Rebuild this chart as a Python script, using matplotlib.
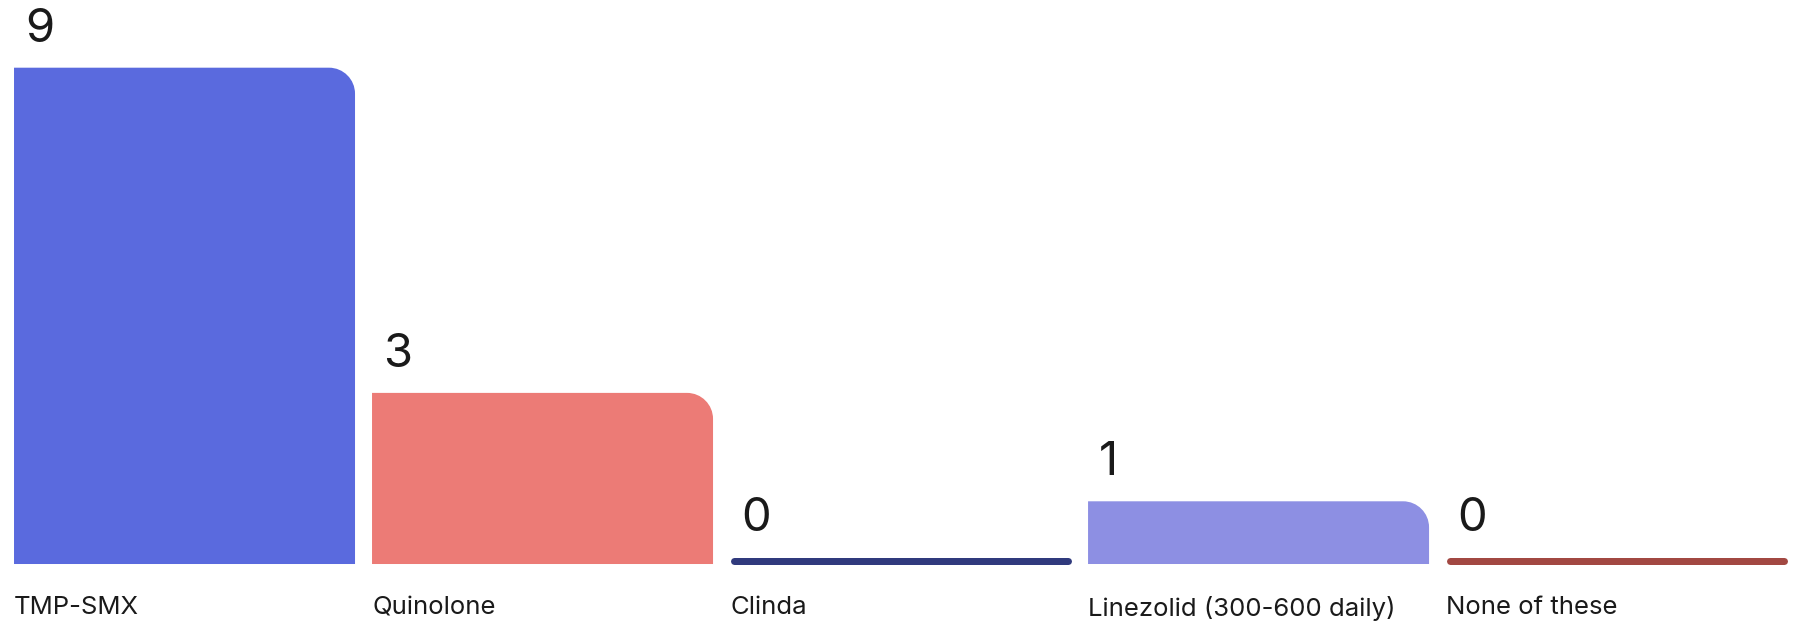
import matplotlib

matplotlib.use("Agg")
import matplotlib.pyplot as plt
from matplotlib.patches import PathPatch
from matplotlib.path import Path

categories = ["TMP-SMX", "Quinolone", "Clinda", "Linezolid (300-600 daily)", "None of these"]
counts = [9, 3, 0, 1, 0]
bar_colors = ["#5A6ADE", "#EC7B76", "#303A7D", "#8D8FE3", "#A24842"]

DPI = 100
W, H = 1797, 622
BAR_WIDTH = 0.9525
STUB = 0.157          # every bar starts with a short stub above the baseline
CORNER_PX = 26        # top-right corner radius
ZERO_PX = 7           # thickness of the empty-bar line

plt.rcParams["font.family"] = ["Inter", "DejaVu Sans"]

fig = plt.figure(figsize=(W / DPI, H / DPI), dpi=DPI)
ax = fig.add_axes([0, 0, 1, 1])
ax.set_xlim(-0.5154, 4.504)
ax.set_ylim(-1.070, 10.406)
ax.axis("off")

# pixels per data unit, used to keep the rounded corners circular
px_x = W / (ax.get_xlim()[1] - ax.get_xlim()[0])
px_y = H / (ax.get_ylim()[1] - ax.get_ylim()[0])
rx, ry = CORNER_PX / px_x, CORNER_PX / px_y
k = 0.5523


def rounded_bar(x0, x1, y0, y1):
    verts = [
        (x0, y0), (x1, y0), (x1, y1 - ry),
        (x1, y1 - ry + k * ry), (x1 - rx + k * rx, y1), (x1 - rx, y1),
        (x0, y1), (x0, y0),
    ]
    codes = [Path.MOVETO, Path.LINETO, Path.LINETO,
             Path.CURVE4, Path.CURVE4, Path.CURVE4,
             Path.LINETO, Path.CLOSEPOLY]
    return Path(verts, codes)


for i, (name, val, color) in enumerate(zip(categories, counts, bar_colors)):
    x0 = i - BAR_WIDTH / 2
    x1 = i + BAR_WIDTH / 2
    if val > 0:
        top = val + STUB
        ax.add_patch(PathPatch(rounded_bar(x0, x1, 0, top), facecolor=color, edgecolor="none"))
    else:
        half = ZERO_PX / 2
        yc = half / px_y
        lw = ZERO_PX * 72 / DPI
        ax.plot([x0 + half / px_x, x1 - half / px_x], [yc, yc], color=color,
                linewidth=lw, solid_capstyle="round")
        top = ZERO_PX / px_y
    ax.annotate(str(val), (x0, top), xytext=(11, 26), textcoords="offset pixels",
                fontsize=34, color="#1a1a1a", ha="left", va="baseline")
    ax.annotate(name, (x0, 0), xytext=(0, -32), textcoords="offset pixels",
                fontsize=18.5, color="#1a1a1a", ha="left", va="top")

fig.savefig("out.png", dpi=DPI)
